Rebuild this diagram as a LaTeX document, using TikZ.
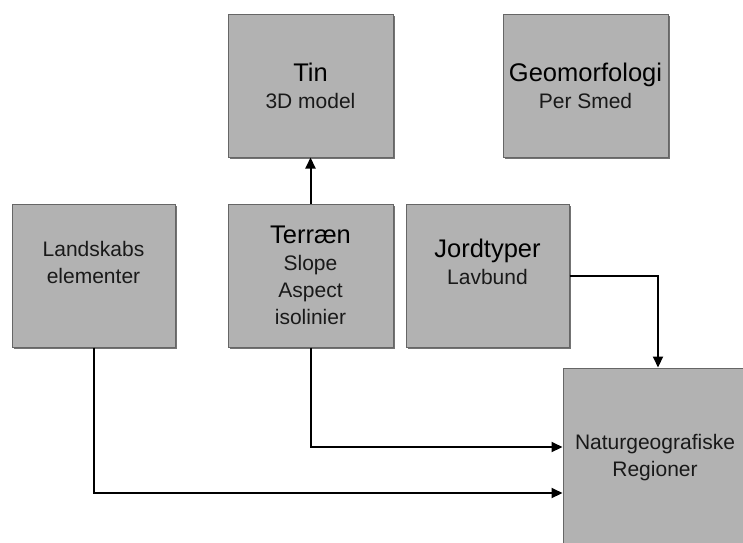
\documentclass[tikz,border=0pt]{standalone}
\usepackage{fontspec}
\setmainfont{Liberation Sans}
\usetikzlibrary{arrows.meta,shadows}
\newcommand{\boxhead}[1]{{\fontsize{25.5}{28}\selectfont\color{black}#1}}

\begin{document}
\begin{tikzpicture}[x=1pt, y=-1pt,
    box/.style={draw=black!60, line width=1pt, fill=black!30, inner sep=0pt,
        minimum width=165pt, minimum height=143pt, align=center,
        font=\fontsize{21}{27}\selectfont, text=black!90,
        drop shadow={shadow xshift=2pt, shadow yshift=-2pt, fill=black!55, opacity=1}},
    flow/.style={line width=2pt, -{Triangle[length=11pt, width=10pt]}}]
			%%%%% START %%%%%
			\useasboundingbox (0, 0) rectangle (743, 542);
			
			\node[box] (tin) at (310.5, 85.5) {\boxhead{Tin}\\3D model};
			\node[box] (geo) at (585.5, 85.5) {\boxhead{Geomorfologi}\\Per Smed};
			
			\node[box, minimum width=163pt] (land) at (93.5, 275.5) {Landskabs\\elementer\\~};
			\node[box] (terr) at (310.5, 275.5) {\boxhead{Terræn}\\Slope\\Aspect\\isolinier};
			\node[box, minimum width=163pt] (jord) at (487.5, 275.5) {\boxhead{Jordtyper}\\Lavbund\\~};
			
			\node[box, minimum width=184pt, minimum height=180pt] (natur) at (655, 458) {Naturgeografiske\\Regioner};
			
			\draw[flow] (terr.north) -- (tin.south);
			\draw[flow] (jord.east) -| ([xshift=3pt]natur.north);
			\draw[flow] (terr.south) |- ([yshift=11pt]natur.west);
			\draw[flow] (land.south) |- ([yshift=-35pt]natur.west);
			
			%%%%% END %%%%%
		\end{tikzpicture}
\end{document}
